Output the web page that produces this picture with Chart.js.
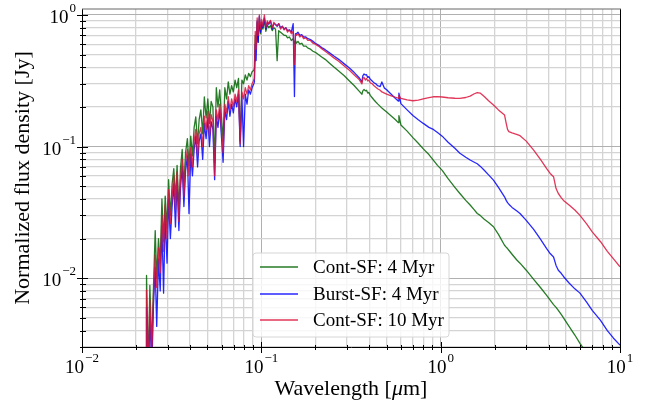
<!DOCTYPE html>
<html>
<head>
<meta charset="utf-8">
<script src="https://cdn.jsdelivr.net/npm/chart.js@4.4.1/dist/chart.umd.min.js"></script>
<style>
  body { margin: 0; background: #ffffff; }
  #wrap { width: 651px; height: 408px; }
</style>
</head>
<body>
<div id="wrap"><canvas id="sedChart" width="651" height="408"></canvas></div>
<script>
// Wavelength grid [um], shared by the three spectra
const wavelength = [
    0.0228, 0.0229, 0.0234, 0.0239, 0.0245, 0.0250, 0.0256, 0.0261, 0.0267, 0.0273,
    0.0279, 0.0285, 0.0291, 0.0298, 0.0304, 0.0311, 0.0318, 0.0325, 0.0332, 0.0339,
    0.0347, 0.0354, 0.0362, 0.0370, 0.0378, 0.0387, 0.0395, 0.0404, 0.0413, 0.0422,
    0.0431, 0.0441, 0.0450, 0.0460, 0.0471, 0.0481, 0.0492, 0.0503, 0.0514, 0.0525,
    0.0537, 0.0549, 0.0561, 0.0573, 0.0586, 0.0599, 0.0612, 0.0626, 0.0640, 0.0654,
    0.0668, 0.0683, 0.0698, 0.0714, 0.0729, 0.0746, 0.0762, 0.0779, 0.0796, 0.0814,
    0.0832, 0.0850, 0.0869, 0.0888, 0.0908, 0.0915, 0.0925, 0.0935, 0.0948, 0.0960,
    0.0975, 0.0990, 0.1005, 0.1020, 0.1040, 0.1060, 0.1080, 0.1100, 0.1125, 0.1150,
    0.1175, 0.1200, 0.1225, 0.1250, 0.1280, 0.1310, 0.1340, 0.1370, 0.1400, 0.1435,
    0.1470, 0.1505, 0.1530, 0.1550, 0.1570, 0.1600, 0.1640, 0.1680, 0.1720, 0.1770,
    0.1820, 0.1880, 0.1940, 0.2000, 0.2080, 0.2170, 0.2270, 0.2400, 0.2550, 0.2700,
    0.2900, 0.3100, 0.3300, 0.3500, 0.3640, 0.3680, 0.3740, 0.3800, 0.3860, 0.3920,
    0.3980, 0.4050, 0.4150, 0.4250, 0.4350, 0.4450, 0.4600, 0.4700, 0.4860, 0.5000,
    0.5300, 0.5600, 0.5800, 0.5850, 0.6000, 0.6500, 0.7000, 0.7500, 0.8000, 0.8600,
    0.9100, 0.9600, 1.0200, 1.1000, 1.2000, 1.2800, 1.3800, 1.4600, 1.5400, 1.6000,
    1.6600, 1.7500, 1.8500, 1.9700, 2.1000, 2.2700, 2.3200, 2.3600, 2.4000, 2.5000,
    2.6500, 2.7700, 3.0000, 3.3000, 3.6000, 3.9000, 4.0800, 4.2600, 4.4000, 4.5300,
    4.7000, 4.8400, 5.2000, 5.6000, 5.9800, 6.5000, 7.0000, 7.7700, 8.5000, 9.2000,
    10.000
];

// Normalized flux density [Jy]
const fluxContSF4 = [
    0.0010, 0.0105, 0.0020, 0.0088, 0.0030, 0.0080, 0.0230, 0.0100, 0.0200, 0.0130,
    0.0400, 0.0190, 0.0420, 0.0240, 0.0560, 0.0300, 0.0520, 0.0680, 0.0400, 0.0720,
    0.0330, 0.0680, 0.0950, 0.0500, 0.0900, 0.1150, 0.0720, 0.1200, 0.0850, 0.1400,
    0.1680, 0.1050, 0.1600, 0.1900, 0.1250, 0.2380, 0.1650, 0.2300, 0.1500, 0.2200,
    0.2000, 0.0750, 0.2800, 0.2000, 0.2700, 0.1700, 0.1100, 0.2800, 0.2300, 0.3100,
    0.2500, 0.2900, 0.2600, 0.3200, 0.2800, 0.3300, 0.1100, 0.3200, 0.3000, 0.3500,
    0.3200, 0.3600, 0.3400, 0.3700, 0.3800, 0.40, 0.70, 0.60, 0.88, 0.62,
    0.95, 0.72, 0.85, 0.78, 0.92, 0.75, 0.84, 0.80, 0.83, 0.76,
    0.80, 0.78, 0.45, 0.76, 0.74, 0.72, 0.70, 0.70, 0.67, 0.68,
    0.64, 0.66, 0.60, 0.64, 0.61, 0.63, 0.60, 0.61, 0.58, 0.58,
    0.56, 0.55, 0.53, 0.52, 0.50, 0.48, 0.46, 0.43, 0.40, 0.375,
    0.345, 0.315, 0.29, 0.265, 0.25, 0.265, 0.272, 0.265, 0.268, 0.255,
    0.258, 0.245, 0.235, 0.226, 0.218, 0.211, 0.202, 0.196, 0.189, 0.183,
    0.171, 0.160, 0.152, 0.172, 0.146, 0.131, 0.117, 0.106, 0.096, 0.087,
    0.079, 0.072, 0.066, 0.057, 0.049, 0.044, 0.039, 0.036, 0.033, 0.031,
    0.030, 0.028, 0.0265, 0.0246, 0.0215, 0.0178, 0.0172, 0.0168, 0.0163, 0.0152,
    0.0138, 0.0130, 0.0115, 0.0098, 0.0085, 0.0074, 0.0068, 0.0063, 0.0060, 0.0057,
    0.0053, 0.0050, 0.0043, 0.0037, 0.0032, 0.0027, 0.0023, 0.0019, 0.0016, 0.0013,
    0.0011
];

const fluxBurstSF4 = [
    0.0010, 0.0060, 0.0015, 0.0051, 0.0020, 0.0060, 0.0120, 0.0043, 0.0140, 0.0080,
    0.0250, 0.0077, 0.0300, 0.0130, 0.0400, 0.0200, 0.0350, 0.0520, 0.0245, 0.0550,
    0.0230, 0.0480, 0.0700, 0.0350, 0.0650, 0.0850, 0.0310, 0.0880, 0.0600, 0.0950,
    0.1200, 0.0700, 0.1100, 0.1250, 0.0800, 0.1500, 0.1150, 0.1650, 0.1000, 0.1550,
    0.1350, 0.0560, 0.1700, 0.1400, 0.1900, 0.1200, 0.0760, 0.1900, 0.1600, 0.2200,
    0.1700, 0.2100, 0.1800, 0.2300, 0.2000, 0.2500, 0.1000, 0.2400, 0.1000, 0.2500,
    0.2100, 0.2700, 0.2500, 0.2800, 0.3000, 0.31, 0.60, 0.45, 0.90, 0.62,
    0.98, 0.74, 0.88, 0.80, 0.95, 0.78, 0.88, 0.85, 0.90, 0.78,
    0.86, 0.85, 0.82, 0.86, 0.80, 0.82, 0.78, 0.80, 0.76, 0.77,
    0.74, 0.86, 0.24, 0.72, 0.72, 0.74, 0.70, 0.71, 0.68, 0.68,
    0.66, 0.65, 0.63, 0.61, 0.59, 0.565, 0.545, 0.515, 0.485, 0.46,
    0.425, 0.395, 0.365, 0.335, 0.31, 0.345, 0.356, 0.35, 0.352, 0.335,
    0.34, 0.325, 0.315, 0.305, 0.30, 0.29, 0.286, 0.31, 0.278, 0.27,
    0.25, 0.232, 0.222, 0.255, 0.212, 0.19, 0.172, 0.16, 0.15, 0.14,
    0.135, 0.128, 0.12, 0.108, 0.097, 0.089, 0.083, 0.079, 0.076, 0.074,
    0.071, 0.066, 0.061, 0.0556, 0.049, 0.0415, 0.039, 0.0375, 0.0365, 0.0345,
    0.0325, 0.031, 0.0275, 0.0235, 0.0198, 0.0168, 0.0154, 0.0145, 0.0125, 0.0115,
    0.0109, 0.0103, 0.0092, 0.0083, 0.0077, 0.0066, 0.0057, 0.0048, 0.0040, 0.0035,
    0.0031
];

const fluxContSF10 = [
    0.0010, 0.0081, 0.0018, 0.0068, 0.0025, 0.0072, 0.0150, 0.0085, 0.0170, 0.0110,
    0.0300, 0.0160, 0.0360, 0.0200, 0.0470, 0.0260, 0.0420, 0.0600, 0.0330, 0.0640,
    0.0270, 0.0560, 0.0800, 0.0420, 0.0760, 0.0950, 0.0600, 0.0980, 0.0700, 0.1100,
    0.1350, 0.0850, 0.1250, 0.1400, 0.1000, 0.1700, 0.1350, 0.1850, 0.1200, 0.1750,
    0.1550, 0.0600, 0.1900, 0.1600, 0.2100, 0.1350, 0.0900, 0.2100, 0.1800, 0.2400,
    0.1900, 0.2300, 0.2000, 0.2500, 0.2200, 0.2700, 0.1050, 0.2600, 0.2300, 0.2800,
    0.2500, 0.2900, 0.2700, 0.3000, 0.3200, 0.33, 0.75, 0.55, 0.95, 0.70,
    1.00, 0.78, 0.92, 0.82, 1.00, 0.80, 0.90, 0.86, 0.91, 0.80,
    0.88, 0.84, 0.83, 0.86, 0.78, 0.82, 0.77, 0.80, 0.74, 0.77,
    0.72, 0.75, 0.42, 0.72, 0.70, 0.72, 0.68, 0.70, 0.66, 0.67,
    0.64, 0.64, 0.61, 0.60, 0.58, 0.555, 0.53, 0.50, 0.47, 0.445,
    0.41, 0.38, 0.35, 0.325, 0.30, 0.33, 0.335, 0.32, 0.33, 0.315,
    0.32, 0.305, 0.30, 0.29, 0.282, 0.275, 0.268, 0.26, 0.255, 0.25,
    0.243, 0.237, 0.233, 0.245, 0.232, 0.226, 0.223, 0.225, 0.23, 0.235,
    0.239, 0.24, 0.238, 0.235, 0.233, 0.232, 0.236, 0.242, 0.252, 0.257,
    0.255, 0.24, 0.223, 0.207, 0.19, 0.174, 0.15, 0.135, 0.13, 0.127,
    0.124, 0.121, 0.11, 0.094, 0.08, 0.068, 0.0625, 0.059, 0.048, 0.044,
    0.041, 0.039, 0.036, 0.033, 0.030, 0.026, 0.0225, 0.019, 0.016, 0.014,
    0.0122
];

const seriesLabels = ['Cont-SF: 4 Myr', 'Burst-SF: 4 Myr', 'Cont-SF: 10 Myr'];
const seriesColors = ['rgba(0, 100, 0, 0.85)', 'rgba(0, 0, 255, 0.85)', 'rgba(220, 20, 60, 0.85)'];

// Axis ticks (log axes, labels drawn as 10^n)
const xMajorTicks = [0.01, 0.1, 1, 10];
const xTickExponents = ['\u22122', '\u22121', '0', '1'];
const xMinorTicks = [0.02, 0.03, 0.04, 0.05, 0.06, 0.07, 0.08, 0.09,
                     0.2, 0.3, 0.4, 0.5, 0.6, 0.7, 0.8, 0.9,
                     2, 3, 4, 5, 6, 7, 8, 9];
const yMajorTicks = [0.01, 0.1, 1];
const yTickExponents = ['\u22122', '\u22121', '0'];
const yMinorTicks = [0.003, 0.004, 0.005, 0.006, 0.007, 0.008, 0.009,
                     0.02, 0.03, 0.04, 0.05, 0.06, 0.07, 0.08, 0.09,
                     0.2, 0.3, 0.4, 0.5, 0.6, 0.7, 0.8, 0.9];

const FONT = '"Liberation Serif", "Times New Roman", serif';

function toPoints(flux) {
    return wavelength.map((w, i) => ({ x: w, y: flux[i] }));
}

function isMajor(value, majors) {
    return majors.some(m => Math.abs(m - value) / m < 1e-6);
}

// draw "10" with a superscript exponent; returns nothing
function drawPower(ctx, left, baseY, supY, exp) {
    ctx.font = '19px ' + FONT;
    ctx.textAlign = 'left';
    ctx.textBaseline = 'alphabetic';
    ctx.fillText('10', left, baseY);
    const w = ctx.measureText('10').width;
    ctx.font = '13px ' + FONT;
    ctx.fillText(exp, left + w + 1, supY);
}

function powerWidth(ctx, exp) {
    ctx.font = '19px ' + FONT;
    const w1 = ctx.measureText('10').width;
    ctx.font = '13px ' + FONT;
    return w1 + 1 + ctx.measureText(exp).width;
}

const decorPlugin = {
    id: 'decor',
    afterDatasetsDraw(chart) {
        const ctx = chart.ctx;
        const a = chart.chartArea;
        const xs = chart.scales.x;
        const ys = chart.scales.y;
        ctx.save();

        // spines
        ctx.strokeStyle = '#000';
        ctx.lineWidth = 1;
        ctx.beginPath();
        ctx.moveTo(a.left + 0.5, a.top);
        ctx.lineTo(a.left + 0.5, a.bottom + 0.5);
        ctx.lineTo(a.right + 0.5, a.bottom + 0.5);
        ctx.lineTo(a.right + 0.5, a.top);
        ctx.stroke();
        ctx.strokeStyle = '#666';
        ctx.beginPath();
        ctx.moveTo(a.left, a.top);
        ctx.lineTo(a.right + 1, a.top);
        ctx.stroke();

        // in-out ticks
        ctx.strokeStyle = '#000';
        ctx.beginPath();
        xMajorTicks.forEach(v => {
            const px = Math.round(xs.getPixelForValue(v)) + 0.5;
            ctx.moveTo(px, a.bottom - 5);
            ctx.lineTo(px, a.bottom + 6);
        });
        xMinorTicks.forEach(v => {
            const px = Math.round(xs.getPixelForValue(v)) + 0.5;
            ctx.moveTo(px, a.bottom - 2);
            ctx.lineTo(px, a.bottom + 3);
        });
        yMajorTicks.forEach(v => {
            const py = Math.round(ys.getPixelForValue(v)) + 0.5;
            ctx.moveTo(a.left - 5, py);
            ctx.lineTo(a.left + 6, py);
        });
        yMinorTicks.forEach(v => {
            const py = Math.round(ys.getPixelForValue(v)) + 0.5;
            ctx.moveTo(a.left - 2, py);
            ctx.lineTo(a.left + 4, py);
        });
        ctx.stroke();
        ctx.restore();
    },
    afterDraw(chart) {
        const ctx = chart.ctx;
        const a = chart.chartArea;
        const xs = chart.scales.x;
        const ys = chart.scales.y;
        ctx.save();
        ctx.fillStyle = '#000';

        // tick labels
        xMajorTicks.forEach((v, i) => {
            const px = xs.getPixelForValue(v);
            const w = powerWidth(ctx, xTickExponents[i]);
            drawPower(ctx, px - w / 2, a.bottom + 26, a.bottom + 15, xTickExponents[i]);
        });
        yMajorTicks.forEach((v, i) => {
            const py = ys.getPixelForValue(v);
            const w = powerWidth(ctx, yTickExponents[i]);
            drawPower(ctx, a.left - 6 - w, py + 8, py - 3, yTickExponents[i]);
        });

        // x axis title with italic mu
        const p1 = 'Wavelength [', p2 = '\u03bc', p3 = 'm]';
        ctx.font = '22px ' + FONT;
        const w1 = ctx.measureText(p1).width;
        const w3 = ctx.measureText(p3).width;
        ctx.font = 'italic 22px ' + FONT;
        const w2 = ctx.measureText(p2).width;
        let tx = (a.left + a.right) / 2 - (w1 + w2 + w3) / 2;
        ctx.textAlign = 'left';
        ctx.textBaseline = 'alphabetic';
        ctx.font = '22px ' + FONT;
        ctx.fillText(p1, tx, 395);
        ctx.font = 'italic 22px ' + FONT;
        ctx.fillText(p2, tx + w1, 395);
        ctx.font = '22px ' + FONT;
        ctx.fillText(p3, tx + w1 + w2, 395);

        // y axis title
        ctx.save();
        ctx.translate(29, (a.top + a.bottom) / 2);
        ctx.rotate(-Math.PI / 2);
        ctx.textAlign = 'center';
        ctx.font = '22px ' + FONT;
        ctx.fillText('Normalized flux density [Jy]', 0, 0);
        ctx.restore();

        // legend box
        const lx = 253, ly = 253, lw = 196, lh = 84, r = 3;
        ctx.beginPath();
        ctx.moveTo(lx + r, ly);
        ctx.arcTo(lx + lw, ly, lx + lw, ly + lh, r);
        ctx.arcTo(lx + lw, ly + lh, lx, ly + lh, r);
        ctx.arcTo(lx, ly + lh, lx, ly, r);
        ctx.arcTo(lx, ly, lx + lw, ly, r);
        ctx.closePath();
        ctx.fillStyle = 'rgba(255, 255, 255, 0.8)';
        ctx.fill();
        ctx.strokeStyle = '#d6d6d6';
        ctx.lineWidth = 1;
        ctx.stroke();

        const rowY = [267, 294, 320];
        seriesLabels.forEach((label, i) => {
            ctx.strokeStyle = seriesColors[i];
            ctx.lineWidth = 1.5;
            ctx.beginPath();
            ctx.moveTo(260, rowY[i]);
            ctx.lineTo(298, rowY[i]);
            ctx.stroke();
            ctx.fillStyle = '#000';
            ctx.font = '19px ' + FONT;
            ctx.textAlign = 'left';
            ctx.textBaseline = 'middle';
            ctx.fillText(label, 313, rowY[i] + 1);
        });
        ctx.restore();
    }
};

function makeAxis(min, max, majors, minors, size, isX) {
    return {
        type: 'logarithmic',
        min: min,
        max: max,
        position: isX ? 'bottom' : 'left',
        afterBuildTicks: scale => {
            scale.ticks = majors.concat(minors).sort((p, q) => p - q).map(v => ({ value: v }));
        },
        afterFit: scale => {
            if (isX) scale.height = size; else scale.width = size;
        },
        ticks: { display: false },
        border: { display: false },
        grid: {
            drawTicks: false,
            color: c => isMajor(c.tick.value, majors) ? '#b0b0b0' : '#d4d4d4',
            lineWidth: c => isMajor(c.tick.value, majors) ? 1 : 1.3
        }
    };
}

const datasets = [fluxContSF4, fluxBurstSF4, fluxContSF10].map((flux, i) => ({
    label: seriesLabels[i],
    data: toPoints(flux),
    borderColor: seriesColors[i],
    borderWidth: 1.3,
    borderJoinStyle: 'round',
    pointRadius: 0,
    tension: 0,
    fill: false,
    order: 3 - i
}));

new Chart(document.getElementById('sedChart').getContext('2d'), {
    type: 'line',
    data: { datasets: datasets },
    options: {
        responsive: false,
        animation: false,
        events: [],
        layout: { padding: { top: 9, right: 31, left: 0, bottom: 0 } },
        scales: {
            x: makeAxis(0.01, 10, xMajorTicks, xMinorTicks, 61, true),
            y: makeAxis(0.003, 1.11, yMajorTicks, yMinorTicks, 82, false)
        },
        plugins: {
            legend: { display: false },
            tooltip: { enabled: false }
        }
    },
    plugins: [decorPlugin]
});
</script>
</body>
</html>
